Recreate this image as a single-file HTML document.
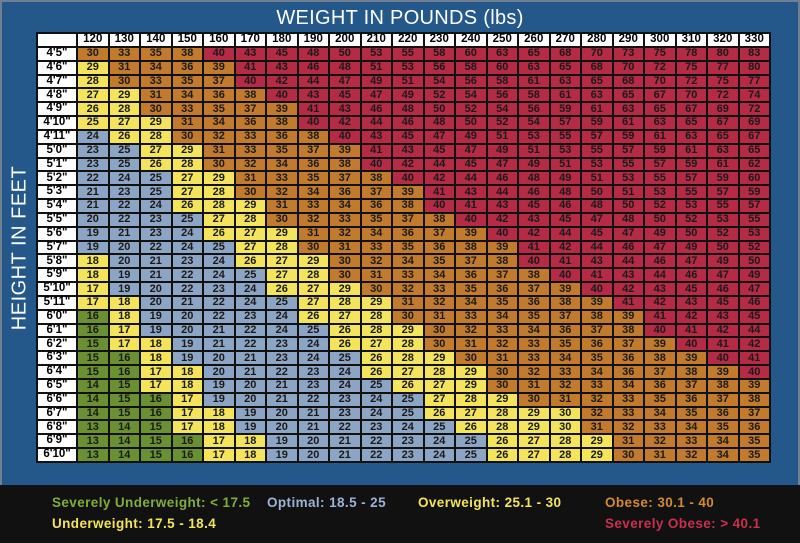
<!DOCTYPE html>
<html><head><meta charset="utf-8"><style>
*{margin:0;padding:0;box-sizing:border-box}
body{width:800px;height:543px;background:#24578a;position:relative;overflow:hidden;font-family:"Liberation Sans",sans-serif}
.fr{position:absolute;left:0;top:0;width:800px;height:485px;border:2px solid #6f7f8f;border-bottom:none}
.t{position:absolute;left:0;width:800px;top:7px;text-align:center;color:#fff;font-size:20px;letter-spacing:0.3px}
.v{position:absolute;left:20px;top:248px;transform:translate(-50%,-50%) rotate(-90deg);color:#fff;font-size:20px;white-space:nowrap;letter-spacing:0.5px}
.g0{position:absolute;left:36px;top:32px;width:735px;height:431px;background:#111;padding:2px;display:grid;grid-template-columns:38px repeat(22,1fr);grid-template-rows:repeat(31,1fr);gap:2px}
.g0 i{font-style:normal;font-weight:bold;font-size:11px;color:#1a1a1a;display:flex;align-items:center;justify-content:center;line-height:1}
.w{background:#fff;color:#000!important;font-size:11.5px!important}
.e{background:#fff}
.o{background:#c27a2c}.r{background:#b52a45}.y{background:#f3e45c}.b{background:#8da5c5}.g{background:#6b9031}
.ft{position:absolute;left:0;top:485px;width:800px;height:58px;background:#111}
.l{position:absolute;font-weight:bold;font-size:13.5px;letter-spacing:0.4px;white-space:nowrap}
</style></head><body>
<div class="fr"></div>
<div class="t">WEIGHT IN POUNDS (lbs)</div>
<div class="v">HEIGHT IN FEET</div>
<div class="g0">
<i class="e"></i><i class="w">120</i><i class="w">130</i><i class="w">140</i><i class="w">150</i><i class="w">160</i><i class="w">170</i><i class="w">180</i><i class="w">190</i><i class="w">200</i><i class="w">210</i><i class="w">220</i><i class="w">230</i><i class="w">240</i><i class="w">250</i><i class="w">260</i><i class="w">270</i><i class="w">280</i><i class="w">290</i><i class="w">300</i><i class="w">310</i><i class="w">320</i><i class="w">330</i>
<i class="w">4'5"</i><i class="o">30</i><i class="o">33</i><i class="o">35</i><i class="o">38</i><i class="r">40</i><i class="r">43</i><i class="r">45</i><i class="r">48</i><i class="r">50</i><i class="r">53</i><i class="r">55</i><i class="r">58</i><i class="r">60</i><i class="r">63</i><i class="r">65</i><i class="r">68</i><i class="r">70</i><i class="r">73</i><i class="r">75</i><i class="r">78</i><i class="r">80</i><i class="r">83</i>
<i class="w">4'6"</i><i class="y">29</i><i class="o">31</i><i class="o">34</i><i class="o">36</i><i class="o">39</i><i class="r">41</i><i class="r">43</i><i class="r">46</i><i class="r">48</i><i class="r">51</i><i class="r">53</i><i class="r">56</i><i class="r">58</i><i class="r">60</i><i class="r">63</i><i class="r">65</i><i class="r">68</i><i class="r">70</i><i class="r">72</i><i class="r">75</i><i class="r">77</i><i class="r">80</i>
<i class="w">4'7"</i><i class="y">28</i><i class="o">30</i><i class="o">33</i><i class="o">35</i><i class="o">37</i><i class="r">40</i><i class="r">42</i><i class="r">44</i><i class="r">47</i><i class="r">49</i><i class="r">51</i><i class="r">54</i><i class="r">56</i><i class="r">58</i><i class="r">61</i><i class="r">63</i><i class="r">65</i><i class="r">68</i><i class="r">70</i><i class="r">72</i><i class="r">75</i><i class="r">77</i>
<i class="w">4'8"</i><i class="y">27</i><i class="y">29</i><i class="o">31</i><i class="o">34</i><i class="o">36</i><i class="o">38</i><i class="r">40</i><i class="r">43</i><i class="r">45</i><i class="r">47</i><i class="r">49</i><i class="r">52</i><i class="r">54</i><i class="r">56</i><i class="r">58</i><i class="r">61</i><i class="r">63</i><i class="r">65</i><i class="r">67</i><i class="r">70</i><i class="r">72</i><i class="r">74</i>
<i class="w">4'9"</i><i class="y">26</i><i class="y">28</i><i class="o">30</i><i class="o">33</i><i class="o">35</i><i class="o">37</i><i class="o">39</i><i class="r">41</i><i class="r">43</i><i class="r">46</i><i class="r">48</i><i class="r">50</i><i class="r">52</i><i class="r">54</i><i class="r">56</i><i class="r">59</i><i class="r">61</i><i class="r">63</i><i class="r">65</i><i class="r">67</i><i class="r">69</i><i class="r">72</i>
<i class="w">4'10"</i><i class="y">25</i><i class="y">27</i><i class="y">29</i><i class="o">31</i><i class="o">34</i><i class="o">36</i><i class="o">38</i><i class="r">40</i><i class="r">42</i><i class="r">44</i><i class="r">46</i><i class="r">48</i><i class="r">50</i><i class="r">52</i><i class="r">54</i><i class="r">57</i><i class="r">59</i><i class="r">61</i><i class="r">63</i><i class="r">65</i><i class="r">67</i><i class="r">69</i>
<i class="w">4'11"</i><i class="b">24</i><i class="y">26</i><i class="y">28</i><i class="o">30</i><i class="o">32</i><i class="o">33</i><i class="o">36</i><i class="o">38</i><i class="r">40</i><i class="r">43</i><i class="r">45</i><i class="r">47</i><i class="r">49</i><i class="r">51</i><i class="r">53</i><i class="r">55</i><i class="r">57</i><i class="r">59</i><i class="r">61</i><i class="r">63</i><i class="r">65</i><i class="r">67</i>
<i class="w">5'0"</i><i class="b">23</i><i class="b">25</i><i class="y">27</i><i class="y">29</i><i class="o">31</i><i class="o">33</i><i class="o">35</i><i class="o">37</i><i class="o">39</i><i class="r">41</i><i class="r">43</i><i class="r">45</i><i class="r">47</i><i class="r">49</i><i class="r">51</i><i class="r">53</i><i class="r">55</i><i class="r">57</i><i class="r">59</i><i class="r">61</i><i class="r">63</i><i class="r">65</i>
<i class="w">5'1"</i><i class="b">23</i><i class="b">25</i><i class="y">26</i><i class="y">28</i><i class="o">30</i><i class="o">32</i><i class="o">34</i><i class="o">36</i><i class="o">38</i><i class="r">40</i><i class="r">42</i><i class="r">44</i><i class="r">45</i><i class="r">47</i><i class="r">49</i><i class="r">51</i><i class="r">53</i><i class="r">55</i><i class="r">57</i><i class="r">59</i><i class="r">61</i><i class="r">62</i>
<i class="w">5'2"</i><i class="b">22</i><i class="b">24</i><i class="b">25</i><i class="y">27</i><i class="y">29</i><i class="o">31</i><i class="o">33</i><i class="o">35</i><i class="o">37</i><i class="o">38</i><i class="r">40</i><i class="r">42</i><i class="r">44</i><i class="r">46</i><i class="r">48</i><i class="r">49</i><i class="r">51</i><i class="r">53</i><i class="r">55</i><i class="r">57</i><i class="r">59</i><i class="r">60</i>
<i class="w">5'3"</i><i class="b">21</i><i class="b">23</i><i class="b">25</i><i class="y">27</i><i class="y">28</i><i class="o">30</i><i class="o">32</i><i class="o">34</i><i class="o">36</i><i class="o">37</i><i class="o">39</i><i class="r">41</i><i class="r">43</i><i class="r">44</i><i class="r">46</i><i class="r">48</i><i class="r">50</i><i class="r">51</i><i class="r">53</i><i class="r">55</i><i class="r">57</i><i class="r">59</i>
<i class="w">5'4"</i><i class="b">21</i><i class="b">22</i><i class="b">24</i><i class="y">26</i><i class="y">28</i><i class="y">29</i><i class="o">31</i><i class="o">33</i><i class="o">34</i><i class="o">36</i><i class="o">38</i><i class="r">40</i><i class="r">41</i><i class="r">43</i><i class="r">45</i><i class="r">46</i><i class="r">48</i><i class="r">50</i><i class="r">52</i><i class="r">53</i><i class="r">55</i><i class="r">57</i>
<i class="w">5'5"</i><i class="b">20</i><i class="b">22</i><i class="b">23</i><i class="b">25</i><i class="y">27</i><i class="y">28</i><i class="o">30</i><i class="o">32</i><i class="o">33</i><i class="o">35</i><i class="o">37</i><i class="o">38</i><i class="r">40</i><i class="r">42</i><i class="r">43</i><i class="r">45</i><i class="r">47</i><i class="r">48</i><i class="r">50</i><i class="r">52</i><i class="r">53</i><i class="r">55</i>
<i class="w">5'6"</i><i class="b">19</i><i class="b">21</i><i class="b">23</i><i class="b">24</i><i class="y">26</i><i class="y">27</i><i class="y">29</i><i class="o">31</i><i class="o">32</i><i class="o">34</i><i class="o">36</i><i class="o">37</i><i class="o">39</i><i class="r">40</i><i class="r">42</i><i class="r">44</i><i class="r">45</i><i class="r">47</i><i class="r">49</i><i class="r">50</i><i class="r">52</i><i class="r">53</i>
<i class="w">5'7"</i><i class="b">19</i><i class="b">20</i><i class="b">22</i><i class="b">24</i><i class="b">25</i><i class="y">27</i><i class="y">28</i><i class="o">30</i><i class="o">31</i><i class="o">33</i><i class="o">35</i><i class="o">36</i><i class="o">38</i><i class="o">39</i><i class="r">41</i><i class="r">42</i><i class="r">44</i><i class="r">46</i><i class="r">47</i><i class="r">49</i><i class="r">50</i><i class="r">52</i>
<i class="w">5'8"</i><i class="y">18</i><i class="b">20</i><i class="b">21</i><i class="b">23</i><i class="b">24</i><i class="y">26</i><i class="y">27</i><i class="y">29</i><i class="o">30</i><i class="o">32</i><i class="o">34</i><i class="o">35</i><i class="o">37</i><i class="o">38</i><i class="r">40</i><i class="r">41</i><i class="r">43</i><i class="r">44</i><i class="r">46</i><i class="r">47</i><i class="r">49</i><i class="r">50</i>
<i class="w">5'9"</i><i class="y">18</i><i class="b">19</i><i class="b">21</i><i class="b">22</i><i class="b">24</i><i class="b">25</i><i class="y">27</i><i class="y">28</i><i class="o">30</i><i class="o">31</i><i class="o">33</i><i class="o">34</i><i class="o">36</i><i class="o">37</i><i class="o">38</i><i class="r">40</i><i class="r">41</i><i class="r">43</i><i class="r">44</i><i class="r">46</i><i class="r">47</i><i class="r">49</i>
<i class="w">5'10"</i><i class="y">17</i><i class="b">19</i><i class="b">20</i><i class="b">22</i><i class="b">23</i><i class="b">24</i><i class="y">26</i><i class="y">27</i><i class="y">29</i><i class="o">30</i><i class="o">32</i><i class="o">33</i><i class="o">35</i><i class="o">36</i><i class="o">37</i><i class="o">39</i><i class="r">40</i><i class="r">42</i><i class="r">43</i><i class="r">45</i><i class="r">46</i><i class="r">47</i>
<i class="w">5'11"</i><i class="y">17</i><i class="y">18</i><i class="b">20</i><i class="b">21</i><i class="b">22</i><i class="b">24</i><i class="b">25</i><i class="y">27</i><i class="y">28</i><i class="y">29</i><i class="o">31</i><i class="o">32</i><i class="o">34</i><i class="o">35</i><i class="o">36</i><i class="o">38</i><i class="o">39</i><i class="r">41</i><i class="r">42</i><i class="r">43</i><i class="r">45</i><i class="r">46</i>
<i class="w">6'0"</i><i class="g">16</i><i class="y">18</i><i class="b">19</i><i class="b">20</i><i class="b">22</i><i class="b">23</i><i class="b">24</i><i class="y">26</i><i class="y">27</i><i class="y">28</i><i class="o">30</i><i class="o">31</i><i class="o">33</i><i class="o">34</i><i class="o">35</i><i class="o">37</i><i class="o">38</i><i class="o">39</i><i class="r">41</i><i class="r">42</i><i class="r">43</i><i class="r">45</i>
<i class="w">6'1"</i><i class="g">16</i><i class="y">17</i><i class="b">19</i><i class="b">20</i><i class="b">21</i><i class="b">22</i><i class="b">24</i><i class="b">25</i><i class="y">26</i><i class="y">28</i><i class="y">29</i><i class="o">30</i><i class="o">32</i><i class="o">33</i><i class="o">34</i><i class="o">36</i><i class="o">37</i><i class="o">38</i><i class="r">40</i><i class="r">41</i><i class="r">42</i><i class="r">44</i>
<i class="w">6'2"</i><i class="g">15</i><i class="y">17</i><i class="y">18</i><i class="b">19</i><i class="b">21</i><i class="b">22</i><i class="b">23</i><i class="b">24</i><i class="y">26</i><i class="y">27</i><i class="y">28</i><i class="o">30</i><i class="o">31</i><i class="o">32</i><i class="o">33</i><i class="o">35</i><i class="o">36</i><i class="o">37</i><i class="o">39</i><i class="r">40</i><i class="r">41</i><i class="r">42</i>
<i class="w">6'3"</i><i class="g">15</i><i class="g">16</i><i class="y">18</i><i class="b">19</i><i class="b">20</i><i class="b">21</i><i class="b">23</i><i class="b">24</i><i class="b">25</i><i class="y">26</i><i class="y">28</i><i class="y">29</i><i class="o">30</i><i class="o">31</i><i class="o">33</i><i class="o">34</i><i class="o">35</i><i class="o">36</i><i class="o">38</i><i class="o">39</i><i class="r">40</i><i class="r">41</i>
<i class="w">6'4"</i><i class="g">15</i><i class="g">16</i><i class="y">17</i><i class="y">18</i><i class="b">20</i><i class="b">21</i><i class="b">22</i><i class="b">23</i><i class="b">24</i><i class="y">26</i><i class="y">27</i><i class="y">28</i><i class="y">29</i><i class="o">30</i><i class="o">32</i><i class="o">33</i><i class="o">34</i><i class="o">36</i><i class="o">37</i><i class="o">38</i><i class="o">39</i><i class="r">40</i>
<i class="w">6'5"</i><i class="g">14</i><i class="g">15</i><i class="y">17</i><i class="y">18</i><i class="b">19</i><i class="b">20</i><i class="b">21</i><i class="b">23</i><i class="b">24</i><i class="b">25</i><i class="y">26</i><i class="y">27</i><i class="y">29</i><i class="o">30</i><i class="o">31</i><i class="o">32</i><i class="o">33</i><i class="o">34</i><i class="o">36</i><i class="o">37</i><i class="o">38</i><i class="o">39</i>
<i class="w">6'6"</i><i class="g">14</i><i class="g">15</i><i class="g">16</i><i class="y">17</i><i class="b">19</i><i class="b">20</i><i class="b">21</i><i class="b">22</i><i class="b">23</i><i class="b">24</i><i class="b">25</i><i class="y">27</i><i class="y">28</i><i class="y">29</i><i class="o">30</i><i class="o">31</i><i class="o">32</i><i class="o">33</i><i class="o">35</i><i class="o">36</i><i class="o">37</i><i class="o">38</i>
<i class="w">6'7"</i><i class="g">14</i><i class="g">15</i><i class="g">16</i><i class="y">17</i><i class="y">18</i><i class="b">19</i><i class="b">20</i><i class="b">21</i><i class="b">23</i><i class="b">24</i><i class="b">25</i><i class="y">26</i><i class="y">27</i><i class="y">28</i><i class="y">29</i><i class="y">30</i><i class="o">32</i><i class="o">33</i><i class="o">34</i><i class="o">35</i><i class="o">36</i><i class="o">37</i>
<i class="w">6'8"</i><i class="g">13</i><i class="g">14</i><i class="g">15</i><i class="y">17</i><i class="y">18</i><i class="b">19</i><i class="b">20</i><i class="b">21</i><i class="b">22</i><i class="b">23</i><i class="b">24</i><i class="b">25</i><i class="y">26</i><i class="y">28</i><i class="y">29</i><i class="y">30</i><i class="o">31</i><i class="o">32</i><i class="o">33</i><i class="o">34</i><i class="o">35</i><i class="o">36</i>
<i class="w">6'9"</i><i class="g">13</i><i class="g">14</i><i class="g">15</i><i class="g">16</i><i class="y">17</i><i class="y">18</i><i class="b">19</i><i class="b">20</i><i class="b">21</i><i class="b">22</i><i class="b">23</i><i class="b">24</i><i class="b">25</i><i class="y">26</i><i class="y">27</i><i class="y">28</i><i class="y">29</i><i class="o">31</i><i class="o">32</i><i class="o">33</i><i class="o">34</i><i class="o">35</i>
<i class="w">6'10"</i><i class="g">13</i><i class="g">14</i><i class="g">15</i><i class="g">16</i><i class="y">17</i><i class="y">18</i><i class="b">19</i><i class="b">20</i><i class="b">21</i><i class="b">22</i><i class="b">23</i><i class="b">24</i><i class="b">25</i><i class="y">26</i><i class="y">27</i><i class="y">28</i><i class="y">29</i><i class="o">30</i><i class="o">31</i><i class="o">32</i><i class="o">34</i><i class="o">35</i>
</div>
<div class="ft"></div>
<div class="l" style="left:52px;top:495px;color:#7fae3a">Severely Underweight: &lt; 17.5</div>
<div class="l" style="left:267px;top:495px;color:#9db3d3">Optimal: 18.5 - 25</div>
<div class="l" style="left:418px;top:495px;color:#f3e45c">Overweight: 25.1 - 30</div>
<div class="l" style="left:605px;top:495px;color:#d48a32">Obese: 30.1 - 40</div>
<div class="l" style="left:52px;top:516px;color:#f3e45c">Underweight: 17.5 - 18.4</div>
<div class="l" style="left:605px;top:516px;color:#c8304e">Severely Obese: &gt; 40.1</div>
</body></html>
